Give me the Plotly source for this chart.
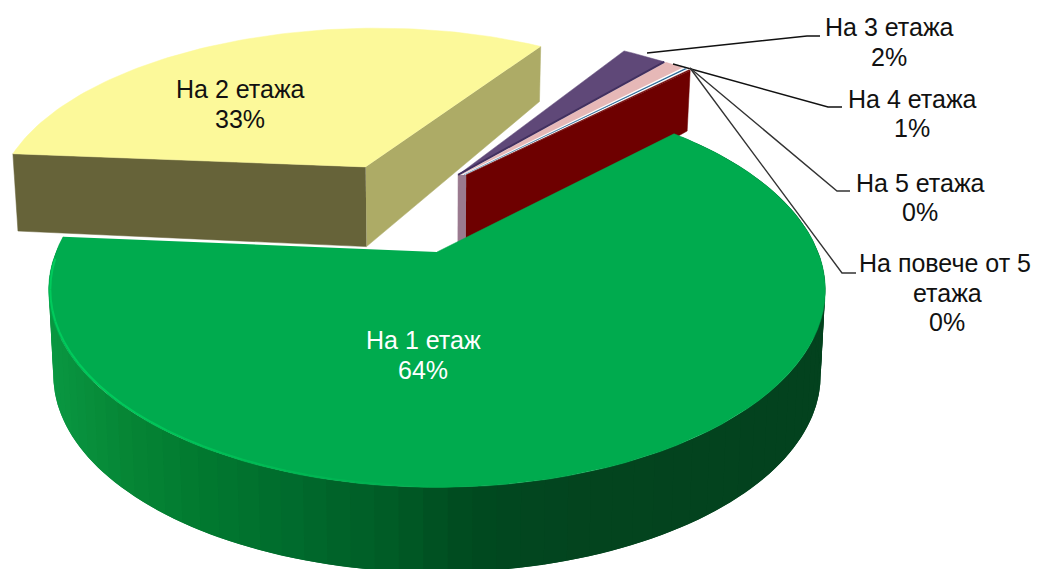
import numpy as np
import plotly.graph_objects as go

categories = ["На 1 етаж", "На 2 етажа", "На 3 етажа", "На 4 етажа", "На 5 етажа", "На повече от 5 етажа"]
values = [63.8, 32.6, 2.3, 1.0, 0.15, 0.15]
top_colors = ["#00AB4E", "#FCF99A", "#5F4878", "#E6B8B7", "#1F5F8F", "#6E0000"]

ROTATION = 45.0
X0, Y0, A, B, P = 437.0, 252.0, 381.0, 190.0, 0.193
# pull offset of each slice on the pie plane, and its radius
OFFSET = [(0, 0), (-0.205, 0.49), (0.06, 0.44), (0.068, 0.44), (0.076, 0.44), (0.083, 0.44)]
RADIUS = [1, 1.035, 1.05, 1.045, 1.04, 1.035]


def project(u, v):
    u, v = np.asarray(u, float), np.asarray(v, float)
    d = 1 + P * v
    return X0 + A * u / d, Y0 - B * v / d


def drop(u, v):
    """Same plane point, on the underside of the pie."""
    x, y = project(u, v)
    depth = 85 - 28 * np.clip(np.asarray(v, float) - 0.3, 0, None)
    return X0 + (x - X0) * 0.988, y + depth


def rim(i, a0, a1, n):
    t = np.radians(np.linspace(a0, a1, n))
    return OFFSET[i][0] + RADIUS[i] * np.sin(t), OFFSET[i][1] + RADIUS[i] * np.cos(t)


spans = np.array(values) / sum(values) * 360
starts = ROTATION + np.concatenate([[0], np.cumsum(spans)[:-1]])
ends = starts + spans

fig = go.Figure()


def poly(x, y, color, lw=0.5):
    fig.add_trace(go.Scatter(x=list(x), y=list(y), mode="lines", fill="toself", fillcolor=color,
                             line=dict(color=color, width=lw), hoverinfo="skip", showlegend=False))


def line(x, y, color, w):
    fig.add_trace(go.Scatter(x=list(x), y=list(y), mode="lines", line=dict(color=color, width=w),
                             hoverinfo="skip", showlegend=False))


def apex(i):
    return OFFSET[i]


def top_face(i):
    u, v = rim(i, starts[i], ends[i], 90 if spans[i] > 20 else 6)
    x, y = project(np.r_[apex(i)[0], u], np.r_[apex(i)[1], v])
    poly(x, y, top_colors[i])


# small slices: far wall strip, red wall, tops
ax, ay = apex(2)
rx, ry = apex(5)
x1, y1 = project([ax, rx], [ay, ry])
x2, y2 = drop([ax, rx], [ay, ry])
poly([x1[0], x2[0], x2[1], x1[1]], [y1[0], y2[0], y2[1], y1[1]], "#9A7A8F")
u, v = rim(5, ends[5], ends[5], 1)
xa, ya = project([rx, u[0]], [ry, v[0]])
xb, yb = drop([rx, u[0]], [ry, v[0]])
poly([xa[0], xa[1], xb[1], xb[0]], [ya[0], ya[1], yb[1], yb[0]], "#6E0000")
for i in (5, 4, 3, 2):
    top_face(i)
u, v = rim(2, ends[2], ends[2], 1)
xa, ya = project([ax, u[0]], [ay, v[0]])
line(xa, ya, "#42305F", 2)

# yellow slice
ax, ay = apex(1)
for ang, col in ((ends[1], "#ADAB66"), (starts[1], "#666339")):
    u, v = rim(1, ang, ang, 1)
    xa, ya = project([ax, u[0]], [ay, v[0]])
    xb, yb = drop([ax, u[0]], [ay, v[0]])
    poly([xa[0], xa[1], xb[1], xb[0]], [ya[0], ya[1], yb[1], yb[0]], col)
top_face(1)

# green slice: overlapping side strips shaded along the x position
stop_x = [50, 130, 200, 300, 400, 470, 560, 830]
stop_rgb = np.array([[10, 152, 66], [6, 133, 53], [2, 122, 48], [0, 106, 45], [0, 90, 37], [0, 74, 32], [3, 69, 31], [3, 66, 30]])
edges = np.arange(ends[0], starts[0] + 3, -3.0)
for a0, a1 in zip(edges[:-1], edges[1:]):
    u, v = rim(0, a0, max(a1 - 3, starts[0]), 5)
    xt, yt = project(u, v)
    xd, yd = drop(u, v)
    rgb = [np.interp(xt[:3].mean(), stop_x, stop_rgb[:, k]) for k in range(3)]
    poly(np.r_[xt, xd[::-1]], np.r_[yt, yd[::-1]], "rgb(%d,%d,%d)" % tuple(rgb), 0)
top_face(0)

# bright bevel on the near left of the green rim
bevel = np.arange(175.0, ends[0] - 6, 3.0)
for a0, a1 in zip(bevel[:-1], bevel[1:]):
    f = min(1.0, (a0 - 175) / 50)
    u, v = rim(0, a0, a1, 2)
    xt, yt = project(u * 0.996, v * 0.996)
    c = "rgb(0,%d,%d)" % (171 + 32 * f, 78 + 14 * f)
    line(xt, yt, c, 2)

# leader lines
leaders = [([647, 807, 820], [53, 36, 36], "#111111"),
           ([673, 828, 842], [64, 107, 107], "#111111"),
           ([690, 837, 850], [68, 191, 191], "#333333"),
           ([690, 842, 856], [68, 273, 273], "#333333")]
for lx, ly, col in leaders:
    line(lx, ly, col, 1.4)

# labels
pct = ["%d%%" % round(val / sum(values) * 100) for val in values]
label_lines = [
    [(categories[0], 423, 340), (pct[0], 423, 370)],
    [(categories[1], 240, 89), (pct[1], 240, 119)],
    [(categories[2], 889, 27), (pct[2], 889, 57)],
    [(categories[3], 912, 99), (pct[3], 912, 128)],
    [(categories[4], 920, 183), (pct[4], 920, 212)],
    [("На повече от 5", 945, 263), ("етажа", 947, 293), (pct[5], 947, 322)],
]
for k, group in enumerate(label_lines):
    for txt, tx, ty in group:
        fig.add_annotation(x=tx, y=ty, text=txt, showarrow=False, xanchor="center", yanchor="middle",
                           font=dict(family="Liberation Sans", size=25,
                                     color="#FFFFFF" if k == 0 else "#111111"))

fig.update_layout(width=1037, height=569, margin=dict(l=0, r=0, t=0, b=0), showlegend=False,
                  paper_bgcolor="#FFFFFF", plot_bgcolor="#FFFFFF",
                  xaxis=dict(range=[0, 1037], visible=False, fixedrange=True),
                  yaxis=dict(range=[569, 0], visible=False, fixedrange=True))
fig.write_html("out.html", config={"displayModeBar": False},
               post_script="document.body.style.margin='0';document.body.style.overflow='hidden';")
